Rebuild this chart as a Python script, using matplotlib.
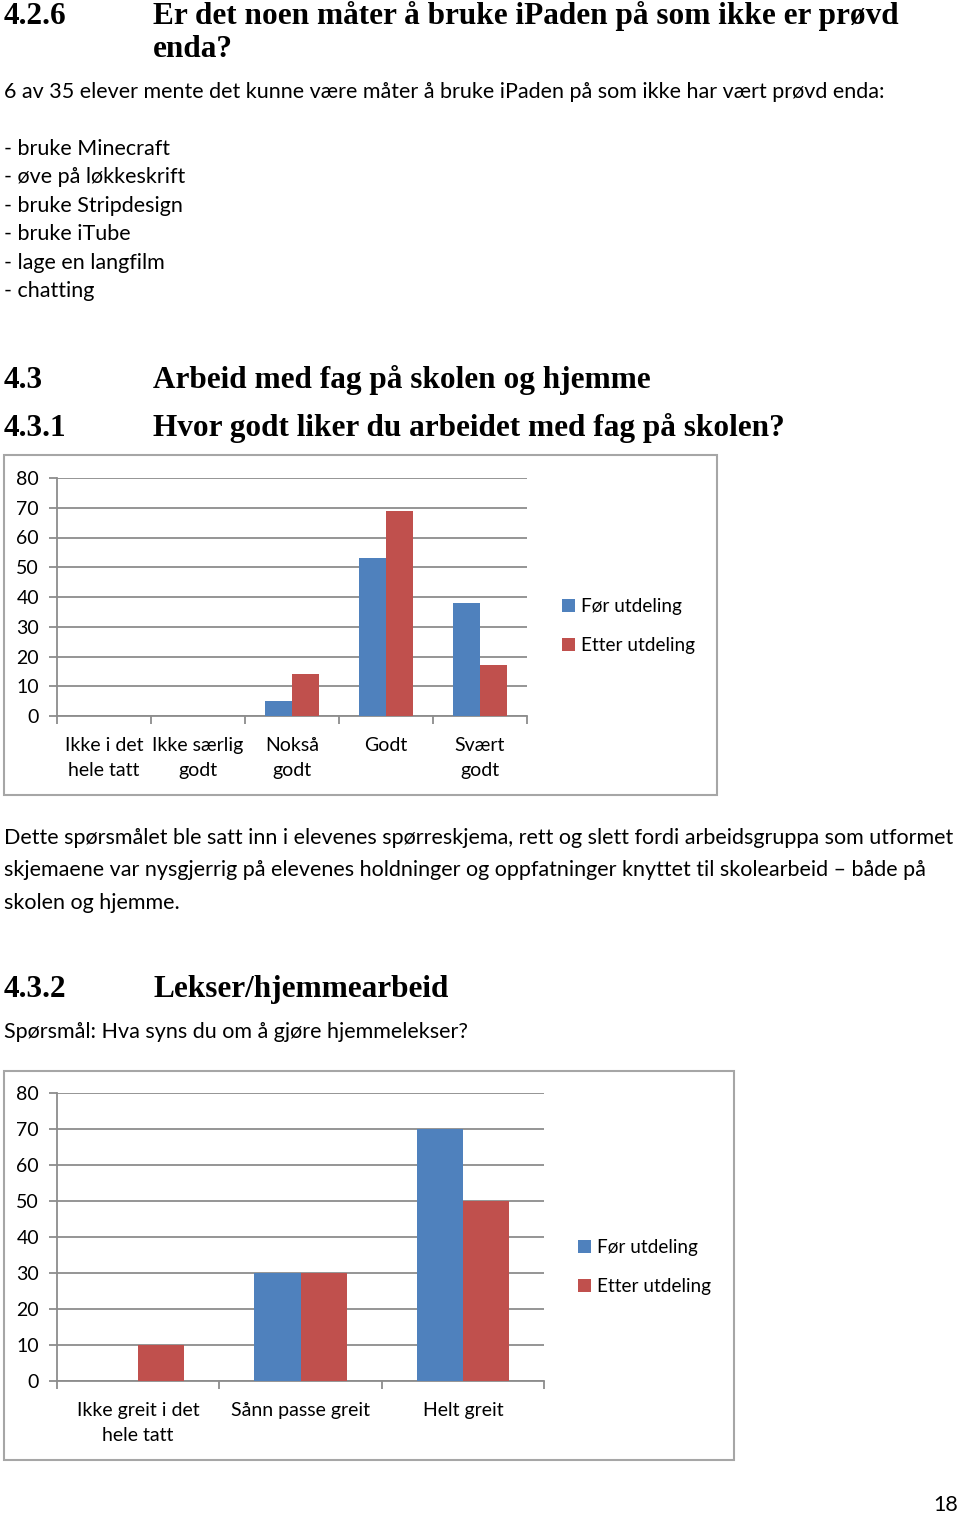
import matplotlib
matplotlib.use("Agg")
import matplotlib.pyplot as plt
from matplotlib.patches import Rectangle

W, H = 960, 1515

# ---- data ----
cat1 = ["Ikke i det\nhele tatt", "Ikke særlig\ngodt", "Nokså\ngodt", "Godt", "Svært\ngodt"]
for1 = [0, 0, 5, 53, 38]
etter1 = [0, 0, 14, 69, 17]

cat2 = ["Ikke greit i det\nhele tatt", "Sånn passe greit", "Helt greit"]
for2 = [0, 30, 70]
etter2 = [10, 30, 50]

series_names = ["Før utdeling", "Etter utdeling"]
yticks = [0, 10, 20, 30, 40, 50, 60, 70, 80]

list_items = ["- bruke Minecraft", "- øve på løkkeskrift", "- bruke Stripdesign",
              "- bruke iTube", "- lage en langfilm", "- chatting"]

BLUE = "#4F81BD"
RED = "#C0504D"
GRID = "#8C8C8C"
BODY = "Lato"
HEAD = "Liberation Serif"
HSIZE = 22.5
BSIZE = 15.5

fig = plt.figure(figsize=(W / 100, H / 100), dpi=100)


def fy(y):
    return 1 - y / H


def fx(x):
    return x / W


def body(x, y, s, size=BSIZE):
    fig.text(fx(x), fy(y), s, fontsize=size, family=BODY, va="center", ha="left")


def head(num, title, y, size=HSIZE):
    fig.text(fx(4), fy(y), num, fontsize=size, family=HEAD, weight="bold", va="baseline", ha="left")
    fig.text(fx(153), fy(y), title, fontsize=size, family=HEAD, weight="bold", va="baseline", ha="left")


# ---- text ----
head("4.2.6", "Er det noen måter å bruke iPaden på som ikke er prøvd", 24)
fig.text(fx(153), fy(57), "enda?", fontsize=HSIZE, family=HEAD, weight="bold", va="baseline", ha="left")
body(4, 92, "6 av 35 elever mente det kunne være måter å bruke iPaden på som ikke har vært prøvd enda:")
for i, it in enumerate(list_items):
    body(4, 149 + i * 28.4, it)
head("4.3", "Arbeid med fag på skolen og hjemme", 388)
head("4.3.1", "Hvor godt liker du arbeidet med fag på skolen?", 436)

body(4, 838, "Dette spørsmålet ble satt inn i elevenes spørreskjema, rett og slett fordi arbeidsgruppa som utformet")
body(4, 870, "skjemaene var nysgjerrig på elevenes holdninger og oppfatninger knyttet til skolearbeid – både på")
body(4, 903, "skolen og hjemme.")

head("4.3.2", "Lekser/hjemmearbeid", 997)
body(4, 1032, "Spørsmål: Hva syns du om å gjøre hjemmelekser?")

fig.text(fx(958), fy(1505), "18", fontsize=BSIZE, family=BODY, va="center", ha="right")


def chart(box, area, cats, s1, s2, legend_xy, bar_w):
    bx0, by0, bx1, by1 = box
    fig.patches.append(Rectangle((fx(bx0), fy(by1)), fx(bx1 - bx0), (by1 - by0) / H,
                                 transform=fig.transFigure, fill=False,
                                 edgecolor="#A6A6A6", linewidth=1.5))
    ax0, ay0, ax1, ay1 = area
    ax = fig.add_axes([fx(ax0), fy(ay1), fx(ax1 - ax0), (ay1 - ay0) / H])
    n = len(cats)
    xs = [i + 0.5 for i in range(n)]
    b1 = ax.bar([x - bar_w / 2 for x in xs], s1, width=bar_w, color=BLUE, zorder=3, label=series_names[0])
    b2 = ax.bar([x + bar_w / 2 for x in xs], s2, width=bar_w, color=RED, zorder=3, label=series_names[1])
    ax.set_xlim(0, n)
    ax.set_ylim(0, 80)
    ax.set_yticks(yticks)
    ax.set_yticklabels([str(v) for v in yticks], family=BODY, fontsize=14)
    ax.yaxis.grid(True, color=GRID, linewidth=1.3, zorder=0)
    ax.set_axisbelow(True)
    ax.set_xticks(range(n + 1))
    ax.set_xticklabels([""] * (n + 1))
    ax.set_xticks(xs, minor=True)
    ax.set_xticklabels(cats, minor=True, family=BODY, fontsize=14, linespacing=1.6)
    ax.tick_params(axis="x", which="minor", length=0, pad=15)
    ax.tick_params(axis="x", which="major", length=6, color=GRID, width=1.3)
    ax.tick_params(axis="y", length=6, color=GRID, width=1.3, pad=7)
    for sp in ["top", "right"]:
        ax.spines[sp].set_visible(False)
    ax.spines["left"].set_color(GRID)
    ax.spines["left"].set_linewidth(1.3)
    ax.spines["bottom"].set_color(GRID)
    ax.spines["bottom"].set_linewidth(1.3)
    ax.set_facecolor("none")
    lx, ly = legend_xy
    fig.legend(handles=[b1, b2], labels=series_names, loc="upper left",
               bbox_to_anchor=(fx(lx), fy(ly)), frameon=False,
               prop={"family": BODY, "size": 13.7}, handlelength=0.7, handleheight=0.7,
               handletextpad=0.3, labelspacing=1.15, borderpad=0, borderaxespad=0)
    return ax


chart((4, 455, 717, 795), (57, 478, 527, 716), cat1, for1, etter1, (562, 598), 0.29)
chart((4, 1071, 734, 1460), (57, 1093, 544, 1381), cat2, for2, etter2, (578, 1239), 0.285)

fig.savefig("out.png", dpi=100, facecolor="white")
